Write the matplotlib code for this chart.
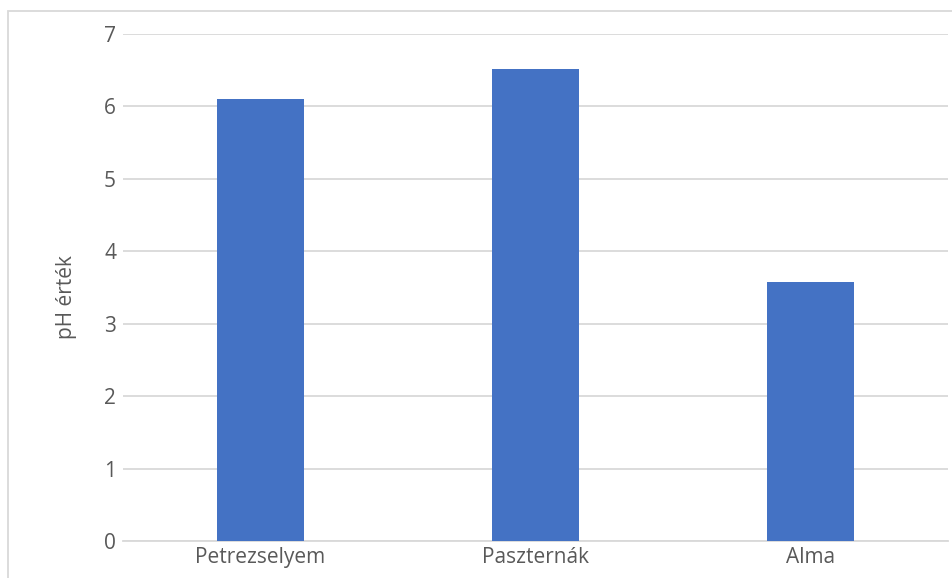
import matplotlib.pyplot as plt
from matplotlib.patches import Rectangle

# pH értékek
kategoriak = ['Petrezselyem', 'Paszternák', 'Alma']
ph_ertekek = [6.1, 6.52, 3.58]
y_ticks = [0, 1, 2, 3, 4, 5, 6, 7]

plt.rcParams['font.family'] = ['Open Sans', 'DejaVu Sans']

fig = plt.figure(figsize=(9.53, 5.78), dpi=100)
ax = fig.add_axes([123 / 953, 1 - 541 / 578, 825 / 953, 507 / 578])

ax.bar(range(len(kategoriak)), ph_ertekek, width=0.316, color='#4472C4', zorder=3)

ax.set_xlim(-0.5, len(kategoriak) - 0.5)
ax.set_ylim(0, 7)
ax.set_yticks(y_ticks)
ax.set_xticks(range(len(kategoriak)))
ax.set_xticklabels(kategoriak)

ax.grid(axis='y', color='#D9D9D9', linewidth=1.3, zorder=0)
for s in ['top', 'right', 'left']:
    ax.spines[s].set_visible(False)
ax.spines['bottom'].set_color('#D9D9D9')
ax.spines['bottom'].set_linewidth(1.3)
ax.tick_params(axis='both', length=0, labelsize=15, labelcolor='#595959')
ax.tick_params(axis='y', pad=5)
ax.tick_params(axis='x', pad=4)

ax.set_ylabel('pH érték', fontsize=15, color='#595959')
ax.yaxis.set_label_coords(-0.056, 0.481)

# diagram kerete
fig.patches.append(Rectangle((8 / 953, -0.1), 1.2, 0.1 + (578 - 11) / 578,
                             transform=fig.transFigure, fill=False,
                             edgecolor='#D9D9D9', linewidth=1.3, zorder=0))

fig.savefig('out.png', dpi=100)
